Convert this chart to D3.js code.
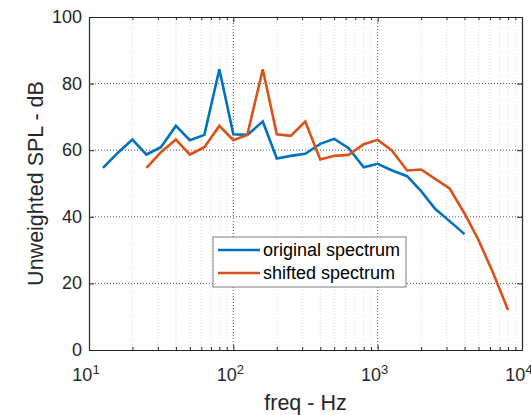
<!DOCTYPE html>
<html>
<head>
<meta charset="utf-8">
<script src="https://d3js.org/d3.v7.min.js"></script>
<style>
  body { margin: 0; background: #fff; }
  text { font-family: "Liberation Sans", Arial, sans-serif; fill: #262626; }
</style>
</head>
<body>
<svg width="531" height="415"></svg>
<script>
// Third-octave band centres (Hz)
var origFreq = [12.5, 16, 20, 25, 31.5, 40, 50, 63, 80, 100, 125, 160, 200, 250,
                315, 400, 500, 630, 800, 1000, 1250, 1600, 2000, 2500, 3150, 4000];
var origSpl  = [54.7, 59.4, 63.2, 58.7, 60.9, 67.3, 63.0, 64.6, 84.3, 64.8, 64.6, 68.6, 57.5, 58.3,
                58.9, 61.9, 63.4, 60.6, 54.9, 55.9, 54.0, 52.2, 47.7, 42.4, 38.7, 34.8];

var shiftFreq = [25, 31.5, 40, 50, 63, 80, 100, 125, 160, 200, 250, 315, 400, 500,
                 630, 800, 1000, 1250, 1600, 2000, 2500, 3150, 4000, 5000, 6300, 8000];
var shiftSpl  = [54.7, 59.4, 63.2, 58.7, 60.9, 67.3, 63.0, 64.6, 84.3, 64.8, 64.3, 68.6, 57.2, 58.3,
                 58.6, 61.8, 63.1, 60.0, 53.9, 54.2, 51.4, 48.5, 41.0, 33.0, 23.2, 12.0];

var xTicks = [10, 100, 1000, 10000];
var yTicks = [0, 20, 40, 60, 80, 100];
var seriesNames = ["original spectrum", "shifted spectrum"];
var colors = ["#0072BD", "#D95319"];

var svg = d3.select("svg");
// plot box (note: "top" is reserved on window, so use prefixed names)
var pL = 89, pR = 522, pT = 17, pB = 350;

var x = d3.scaleLog().domain([10, 10000]).range([pL, pR]);
var y = d3.scaleLinear().domain([0, 100]).range([pB, pT]);

// minor decade ticks
var minor = [];
for (var d = 10; d < 10000; d *= 10) {
    for (var k = 2; k <= 9; k++) minor.push(d * k);
}

// grid
var grid = svg.append("g");
grid.selectAll("line.minor")
    .data(minor)
  .enter().append("line")
    .attr("x1", function(d) { return x(d); })
    .attr("x2", function(d) { return x(d); })
    .attr("y1", pT).attr("y2", pB)
    .attr("stroke", "#d4d4d4")
    .attr("stroke-width", 1)
    .attr("stroke-dasharray", "1,2");

grid.selectAll("line.xmaj")
    .data(xTicks.slice(1, -1))
  .enter().append("line")
    .attr("x1", function(d) { return x(d); })
    .attr("x2", function(d) { return x(d); })
    .attr("y1", pT).attr("y2", pB)
    .attr("stroke", "#555")
    .attr("stroke-width", 1)
    .attr("stroke-dasharray", "1,2");

grid.selectAll("line.ymaj")
    .data(yTicks.slice(1, -1))
  .enter().append("line")
    .attr("x1", pL).attr("x2", pR)
    .attr("y1", function(d) { return y(d); })
    .attr("y2", function(d) { return y(d); })
    .attr("stroke", "#555")
    .attr("stroke-width", 1)
    .attr("stroke-dasharray", "1,2");

// axes with inward ticks
var axisBottom = d3.axisBottom(x).tickValues(xTicks).tickSize(-5).tickSizeOuter(0).tickFormat("");
var axisTop = d3.axisTop(x).tickValues(xTicks).tickSize(-5).tickSizeOuter(0).tickFormat("");
var axisLeft = d3.axisLeft(y).tickValues(yTicks).tickSize(-5).tickSizeOuter(0).tickFormat("");
var axisRight = d3.axisRight(y).tickValues(yTicks).tickSize(-5).tickSizeOuter(0).tickFormat("");

svg.append("g").attr("transform", "translate(0," + pB + ")").call(axisBottom);
svg.append("g").attr("transform", "translate(0," + pT + ")").call(axisTop);
svg.append("g").attr("transform", "translate(" + pL + ",0)").call(axisLeft);
svg.append("g").attr("transform", "translate(" + pR + ",0)").call(axisRight);

svg.append("g").attr("transform", "translate(0," + pB + ")")
    .call(d3.axisBottom(x).tickValues(minor).tickSize(-3).tickSizeOuter(0).tickFormat(""));
svg.append("g").attr("transform", "translate(0," + pT + ")")
    .call(d3.axisTop(x).tickValues(minor).tickSize(-3).tickSizeOuter(0).tickFormat(""));

svg.selectAll(".domain").attr("stroke", "#262626").attr("stroke-width", 1.2);
svg.selectAll(".tick line").attr("stroke", "#262626");

// tick labels
svg.selectAll("text.ylab")
    .data(yTicks)
  .enter().append("text")
    .attr("x", pL - 7)
    .attr("y", function(d) { return y(d) + 6; })
    .attr("text-anchor", "end")
    .style("font-size", "18px")
    .text(function(d) { return d; });

var xl = svg.selectAll("text.xlab")
    .data(xTicks)
  .enter().append("text")
    .attr("x", function(d) { return x(d) - 3; })
    .attr("y", pB + 31)
    .attr("text-anchor", "middle")
    .style("font-size", "18px");
xl.append("tspan").text("10");
xl.append("tspan")
    .attr("dy", -7)
    .style("font-size", "13px")
    .text(function(d) { return Math.round(Math.log10(d)); });

// axis titles
svg.append("text")
    .attr("x", (pL + pR) / 2)
    .attr("y", 410)
    .attr("text-anchor", "middle")
    .style("font-size", "21.5px")
    .text("freq - Hz");

svg.append("text")
    .attr("transform", "translate(43," + ((pT + pB) / 2) + ") rotate(-90)")
    .attr("text-anchor", "middle")
    .style("font-size", "21.5px")
    .text("Unweighted SPL - dB");

// series
var line = d3.line()
    .x(function(d) { return x(d[0]); })
    .y(function(d) { return y(d[1]); });

var series = [d3.zip(origFreq, origSpl), d3.zip(shiftFreq, shiftSpl)];

svg.append("g").selectAll("path")
    .data(series)
  .enter().append("path")
    .attr("d", line)
    .attr("fill", "none")
    .attr("stroke", function(d, i) { return colors[i]; })
    .attr("stroke-width", 2.6)
    .attr("stroke-linejoin", "miter");

// legend
var legend = svg.append("g").attr("transform", "translate(213,237)");
legend.append("rect")
    .attr("width", 193).attr("height", 50)
    .attr("fill", "#fff")
    .attr("stroke", "#7f7f7f")
    .attr("stroke-width", 1);

var items = legend.selectAll("g.item")
    .data(seriesNames)
  .enter().append("g")
    .attr("transform", function(d, i) { return "translate(0," + (13 + i * 23) + ")"; });
items.append("line")
    .attr("x1", 5).attr("x2", 47)
    .attr("stroke", function(d, i) { return colors[i]; })
    .attr("stroke-width", 2.6);
items.append("text")
    .attr("x", 50)
    .attr("y", 6)
    .style("font-size", "18px")
    .style("fill", "#000")
    .text(function(d) { return d; });
</script>
</body>
</html>
